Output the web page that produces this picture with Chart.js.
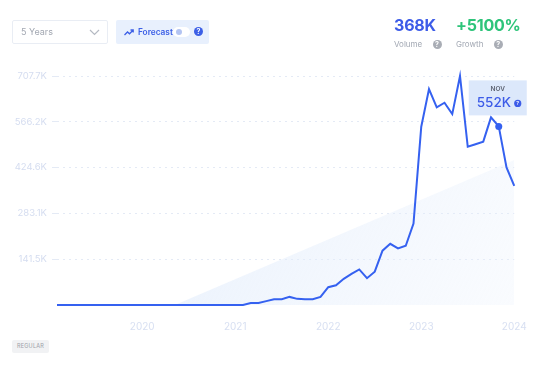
<!DOCTYPE html>
<html>
<head>
<meta charset="utf-8">
<script src="https://cdn.jsdelivr.net/npm/chart.js@4"></script>
<style>
  body { margin: 0; background: #fff; font-family: Inter, "Noto Sans", sans-serif; }
  #wrap { position: relative; width: 540px; height: 371px; overflow: hidden; }
  #chart { position: absolute; left: 0; top: 0; }
  .select { position: absolute; left: 12px; top: 20px; width: 94px; height: 22px; border: 1px solid #e9edf4; border-radius: 2px; font-size: 9px; color: #a3a8b2; line-height: 22px; box-sizing: content-box; }
  .select span { margin-left: 8px; }
  .select svg { position: absolute; right: 7px; top: 8px; }
  .forecast { position: absolute; left: 116px; top: 20px; width: 93px; height: 24px; background: #e8f0fd; border-radius: 2px; font-size: 8.3px; font-weight: 600; color: #3c5fe6; line-height: 24px; white-space: nowrap; }
  .forecast .lbl { position: absolute; left: 22px; }
  .forecast svg { position: absolute; }
  .toggle { position: absolute; left: 173px; top: 27px; width: 17px; height: 10px; border-radius: 5px; background: #fff; }
  .toggle i { position: absolute; left: 3px; top: 2px; width: 6px; height: 6px; border-radius: 3px; background: #b3c4f2; }
  .qb { position: absolute; width: 9px; height: 9px; border-radius: 50%; color: #fff; font-size: 7px; font-weight: 700; text-align: center; line-height: 9px; }
  .stat { position: absolute; top: 15px; }
  .stat .v { font-size: 16px; font-weight: 700; letter-spacing: -0.2px; }
  .stat .l { font-size: 8px; color: #a2a8b3; margin-top: 4px; }
  .badge { position: absolute; left: 12px; top: 340px; width: 37px; height: 13px; background: #f1f2f4; border-radius: 2px; font-size: 5.5px; color: #9ba0a8; text-align: center; line-height: 13px; letter-spacing: 0.2px; }
</style>
</head>
<body>
<div id="wrap">
  <canvas id="chart" width="540" height="371"></canvas>
  <div class="select"><span>5 Years</span>
    <svg width="11" height="7" viewBox="0 0 11 7"><path d="M1 1 L5.5 5.5 L10 1" fill="none" stroke="#b5bac3" stroke-width="1.2"/></svg>
  </div>
  <div class="forecast">
    <svg style="left:8px;top:9px" width="10" height="7" viewBox="0 0 10 7"><path d="M0.5 6 L3.5 3 L5.5 4.8 L9 1.2 M6.5 1 L9.2 1 L9.2 3.6" fill="none" stroke="#3c5fe6" stroke-width="1.3"/></svg>
    <span class="lbl">Forecast</span>
  </div>
  <div class="toggle"><i></i></div>
  <div class="qb" style="left:194px;top:27px;background:#3c5fe6;">?</div>
  <div class="stat" style="left:394px;">
    <div class="v" style="color:#3d5ce8;">368K</div>
    <div class="l">Volume <span class="qb" style="position:relative;display:inline-block;background:#a9adb5;margin-left:8px;top:0px;">?</span></div>
  </div>
  <div class="stat" style="left:456px;">
    <div class="v" style="color:#2ec47a;">+5100%</div>
    <div class="l">Growth <span class="qb" style="position:relative;display:inline-block;background:#a9adb5;margin-left:8px;top:0px;">?</span></div>
  </div>
  <div class="badge">REGULAR</div>
</div>

<script>
// monthly search volume, Feb 2019 .. Jan 2024 (index 0..59)
let volumes = [
    0, 0, 0, 0, 0, 0, 0, 0, 0, 0, 0, 0,
    0, 0, 0, 0, 0, 0, 0, 0, 0, 0, 0, 0,
    0, 6000, 6000, 12000, 18000, 18000, 25000, 19000, 18000, 18000, 25000, 55000,
    61000, 81000, 96000, 110000, 83000, 103000, 168000, 189000, 175000, 183000, 252000, 551000,
    667000, 611000, 625000, 590000, 707700, 489000, 497000, 505000, 580000, 552000, 425000, 368000
];

let yearTicks = [11, 23, 35, 47, 59];
let yearLabels = ["2020", "2021", "2022", "2023", "2024"];

// linear trend shading
let trendX = [15.2, 59];
let trendY = [0, 448000];

let markIndex = 57;
let markMonth = "NOV";
let markLabel = "552K";

let lineColor = "#3561f0";

function fmtK(v) {
    return (v / 1000).toFixed(1) + "K";
}

let markerBox = {
    id: "markerBox",
    afterDatasetsDraw(chart) {
        let meta = chart.getDatasetMeta(1);
        let pt = meta.data[markIndex];
        let ctx = chart.ctx;
        let left = pt.x - 30, top = pt.y - 46;
        ctx.save();
        ctx.fillStyle = "#dce8fb";
        ctx.fillRect(left, top, 58, 35);
        ctx.textAlign = "center";
        ctx.textBaseline = "middle";
        ctx.fillStyle = "#5b6170";
        ctx.font = "600 6.5px Inter";
        ctx.fillText(markMonth, pt.x - 1, top + 9);
        ctx.fillStyle = "#3d5ce8";
        ctx.font = "500 13.5px Inter";
        ctx.textAlign = "left";
        ctx.fillText(markLabel, left + 8, top + 23);
        ctx.beginPath();
        ctx.arc(left + 49, top + 23, 3.6, 0, Math.PI * 2);
        ctx.fill();
        ctx.fillStyle = "#fff";
        ctx.font = "700 5px Inter";
        ctx.textAlign = "center";
        ctx.fillText("?", left + 49, top + 23.3);
        ctx.restore();
    }
};

new Chart(document.getElementById("chart"), {
    type: "line",
    data: {
        datasets: [{
            order: 2,
            data: trendX.map((x, i) => ({ x: x, y: trendY[i] })),
            borderWidth: 0,
            pointRadius: 0,
            fill: "origin",
            backgroundColor: function (c) {
                let a = c.chart.chartArea;
                if (!a) return "#f1f6fd";
                let g = c.chart.ctx.createLinearGradient(a.left + 150, a.top + 80, a.right, a.bottom);
                g.addColorStop(0, "rgba(222,234,251,0.6)");
                g.addColorStop(1, "rgba(232,240,252,0.25)");
                return g;
            }
        }, {
            order: 1,
            data: volumes.map((v, i) => ({ x: i, y: v })),
            borderColor: lineColor,
            borderWidth: 2,
            tension: 0,
            fill: false,
            clip: false,
            pointRadius: c => c.dataIndex === markIndex ? 3.5 : 0,
            pointBackgroundColor: lineColor,
            pointBorderWidth: 0
        }]
    },
    options: {
        responsive: false,
        animation: false,
        events: [],
        layout: { padding: { top: 76, right: 25.75, bottom: 36, left: 0 } },
        plugins: { legend: { display: false }, tooltip: { enabled: false } },
        scales: {
            x: {
                type: "linear",
                min: 0,
                max: 59,
                afterBuildTicks: axis => {
                    axis.ticks = yearTicks.map(v => ({ value: v }));
                },
                afterFit: axis => { axis.height = 30; },
                ticks: {
                    callback: (v) => yearLabels[yearTicks.indexOf(v)],
                    color: "#d8e0f2",
                    font: { family: "Inter", size: 10 },
                    padding: 8,
                    maxRotation: 0
                },
                grid: { display: false },
                border: { display: false }
            },
            y: {
                min: 0,
                max: 707700,
                afterBuildTicks: axis => {
                    axis.ticks = [0, 1, 2, 3, 4, 5].map(k => ({ value: k * 141540 }));
                },
                afterFit: axis => { axis.width = 57; },
                ticks: {
                    callback: v => v === 0 ? "" : fmtK(v),
                    color: "#d5ddf0",
                    font: { family: "Inter", size: 9.5 },
                    padding: 5
                },
                grid: {
                    color: c => c.tick && c.tick.value === 0 ? "rgba(0,0,0,0)" : "#e4eaf5",
                    tickLength: 5,
                    lineWidth: 1
                },
                border: { display: false, dash: [2, 4] }
            }
        }
    },
    plugins: [markerBox]
});
</script>
</body>
</html>
